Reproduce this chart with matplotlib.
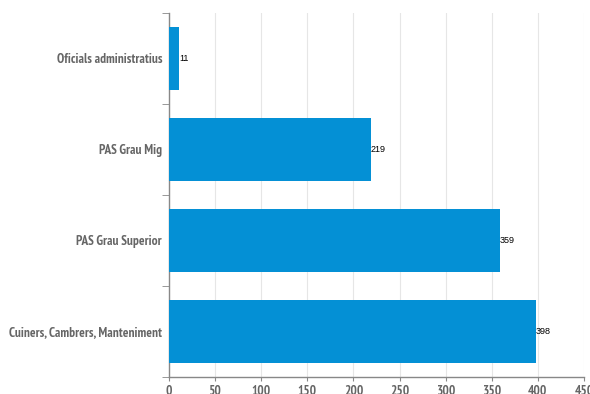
import matplotlib
matplotlib.use('Agg')
import matplotlib.pyplot as plt
import numpy as np

categories = ['Oficials administratius', 'PAS Grau Mig', 'PAS Grau Superior',
              'Cuiners, Cambrers, Manteniment']
values = [11, 219, 359, 398]
xticks = [0, 50, 100, 150, 200, 250, 300, 350, 400, 450]

plt.rcParams['font.family'] = ['Liberation Sans Narrow', 'PT Sans Narrow', 'Roboto Condensed',
                               'Archivo Narrow', 'Liberation Sans', 'DejaVu Sans']
label_font = dict(fontsize=9.5, fontweight='bold', color='#666666')

fig = plt.figure(figsize=(5.9, 3.94), dpi=100)
ax = fig.add_axes([0.2864, 0.0431, 0.7034, 0.924])

y = np.arange(len(categories))
ax.barh(y, values, height=0.7, color='#0490d5', zorder=3)
for yi, v in zip(y, values):
    ax.text(v, yi, str(v), va='center', ha='left', fontsize=6.5, color='#000000',
            family=['Liberation Sans', 'DejaVu Sans'], zorder=4)

ax.set_xlim(0, 450)
ax.set_ylim(len(categories) - 0.5, -0.5)
ax.set_xticks(xticks)
ax.set_xticklabels([str(t) for t in xticks], **label_font)
ax.set_yticks(y)
ax.set_yticklabels(categories, **label_font)
ax.set_yticks(np.arange(-0.5, len(categories), 1.0), minor=True)
ax.tick_params(axis='y', which='major', length=0, pad=5)
ax.tick_params(axis='y', which='minor', length=5, color='#888888', direction='out')
ax.tick_params(axis='x', length=3, color='#888888', pad=3)

ax.grid(axis='x', color='#e6e6e6', linewidth=0.8, zorder=0)
for s in ['top', 'right']:
    ax.spines[s].set_visible(False)
for s in ['left', 'bottom']:
    ax.spines[s].set_color('#888888')
    ax.spines[s].set_linewidth(1)

fig.savefig('out.png', dpi=100)
